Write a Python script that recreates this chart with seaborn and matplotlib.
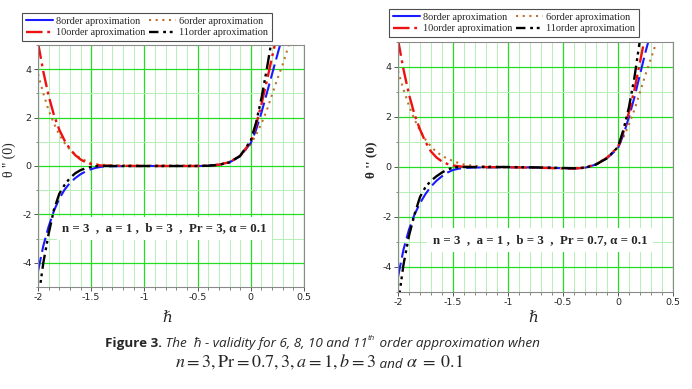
import numpy as np
import pandas as pd
import matplotlib
matplotlib.use("Agg")
import matplotlib.pyplot as plt
from matplotlib.lines import Line2D
from matplotlib.ticker import MultipleLocator, FixedLocator
import seaborn as sns

# ---------------- data ----------------
hbar = [-2.0, -1.95, -1.9, -1.85, -1.8, -1.75, -1.7, -1.65, -1.6, -1.55, -1.5, -1.45,
        -1.4, -1.3, -1.0, -0.7, -0.5, -0.4, -0.3, -0.2, -0.1, 0.0, 0.05, 0.1, 0.15,
        0.2, 0.25, 0.3, 0.35, 0.4]

# Left panel: Pr = 3
left_8 = [-4.35, -3.3, -2.5, -1.85, -1.35, -0.98, -0.7, -0.5, -0.34, -0.22, -0.13, -0.07,
          -0.03, -0.01, 0.0, 0.0, 0.0, 0.01, 0.05, 0.15, 0.4, 0.95, 1.5, 2.2, 3.0,
          3.8, 4.6, 5.4, 6.2, 7.0]
left_6 = [3.8, 3.0, 2.3, 1.75, 1.3, 0.95, 0.68, 0.47, 0.32, 0.21, 0.13, 0.08,
          0.05, 0.03, 0.02, 0.02, 0.02, 0.03, 0.07, 0.18, 0.42, 0.9, 1.3, 1.75, 2.3,
          2.95, 3.6, 4.2, 4.9, 5.6]
left_10 = [5.1, 3.9, 2.9, 2.1, 1.5, 1.05, 0.7, 0.45, 0.27, 0.15, 0.08, 0.04,
           0.02, 0.01, 0.0, 0.0, 0.0, 0.01, 0.05, 0.16, 0.42, 1.0, 1.7, 2.55, 3.5,
           4.5, 5.5, 6.5, 7.5, 8.5]
left_11 = [-5.6, -4.0, -2.8, -1.8, -1.15, -0.78, -0.5, -0.3, -0.17, -0.09, -0.04, -0.01,
           0.0, 0.0, 0.0, 0.0, 0.0, 0.01, 0.05, 0.15, 0.42, 1.05, 1.8, 2.8, 4.0,
           5.3, 6.6, 7.9, 9.2, 10.5]

# Right panel: Pr = 0.7
right_8 = [-4.4, -3.3, -2.5, -1.9, -1.45, -1.08, -0.78, -0.55, -0.37, -0.22, -0.12, -0.07,
           -0.04, -0.02, -0.01, -0.02, -0.05, -0.06, -0.03, 0.1, 0.35, 0.75, 1.3, 2.0, 2.8,
           3.7, 4.6, 5.4, 6.2, 7.0]
right_6 = [3.85, 3.1, 2.45, 1.9, 1.45, 1.1, 0.82, 0.6, 0.45, 0.33, 0.24, 0.16,
           0.1, 0.04, 0.0, -0.02, -0.04, -0.04, -0.01, 0.12, 0.38, 0.8, 1.2, 1.7, 2.3,
           3.0, 3.7, 4.35, 5.0, 5.7]
right_10 = [5.1, 3.9, 2.9, 2.1, 1.5, 1.0, 0.62, 0.38, 0.22, 0.12, 0.06, 0.03,
            0.01, 0.0, -0.01, -0.03, -0.06, -0.06, -0.03, 0.1, 0.37, 0.8, 1.4, 2.2, 3.1,
            4.2, 5.3, 6.4, 7.5, 8.6]
right_11 = [-5.5, -3.9, -2.75, -1.9, -1.2, -0.8, -0.55, -0.37, -0.22, -0.1, -0.03, 0.0,
            0.0, 0.0, 0.0, -0.02, -0.04, -0.05, -0.03, 0.1, 0.35, 0.8, 1.5, 2.4, 3.6,
            5.1, 6.6, 8.1, 9.6, 11.1]

series_labels = ["8order aproximation", "6order aproximation",
                 "10order aproximation", "11order aproximation"]
x_ticks = [-2, -1.5, -1, -0.5, 0, 0.5]
x_ticklabels = ["-2", "-1.5", "-1", "-0.5", "0", "0.5"]
y_ticks = [-4, -2, 0, 2, 4]
y_ticklabels = ["-4", "-2", "0", "2", "4"]
notes = ["n = 3  ,  a = 1 ,  b = 3  ,  Pr = 3, α = 0.1",
         "n = 3  ,  a = 1 ,  b = 3  ,  Pr = 0.7, α = 0.1"]

# ---------------- styles ----------------
colors = {"8": "#1a1aff", "6": "#c0702a", "10": "#ee1111", "11": "#000000"}
styles = {"8": (0, (7, 2.5)), "6": (0, (1, 2.2)), "10": (0, (7, 2, 1.2, 2)),
          "11": (0, (6, 2, 1.2, 1.6, 1.2, 2))}
legend_styles = {"8": "-", "6": (0, (1, 2.2)), "10": (0, (7, 2, 1.2, 2)),
                 "11": (0, (4, 2, 1.2, 1.6, 1.2, 2))}
widths = {"8": 1.5, "6": 1.5, "10": 1.7, "11": 1.7}

sns.set_style("white")
plt.rcParams["font.family"] = ["DejaVu Sans"]
plt.rcParams["mathtext.fontset"] = "stix"

fig = plt.figure(figsize=(6.92, 3.89), dpi=100)
W, H = 692.0, 389.0

def axes_px(l, r, t, b):
    return fig.add_axes([l / W, 1 - b / H, (r - l) / W, (b - t) / H])

axL = axes_px(38, 304, 45, 287)
axR = axes_px(398, 673, 42, 292)

panels = [
    (axL, {"8": left_8, "6": left_6, "10": left_10, "11": left_11}),
    (axR, {"8": right_8, "6": right_6, "10": right_10, "11": right_11}),
]

for ax, data in panels:
    ax.set_xlim(-2, 0.5)
    ax.set_ylim(-5, 5)
    ax.xaxis.set_major_locator(FixedLocator(x_ticks))
    ax.set_xticklabels(x_ticklabels)
    ax.yaxis.set_major_locator(FixedLocator(y_ticks))
    ax.set_yticklabels(y_ticklabels)
    ax.xaxis.set_minor_locator(MultipleLocator(0.1))
    ax.yaxis.set_minor_locator(MultipleLocator(1))
    ax.grid(which="minor", color="#b4f0b4", linewidth=0.7)
    ax.grid(which="major", color="#22dd22", linewidth=0.9)
    ax.set_axisbelow(True)
    for s in ax.spines.values():
        s.set_color("#8a8a8a")
        s.set_linewidth(0.8)
    ax.tick_params(which="major", direction="out", length=3, width=0.7,
                   color="#555555", labelsize=6.8, pad=1.5, bottom=True, left=True)
    ax.tick_params(which="minor", direction="out", length=1.8, width=0.5,
                   color="#555555", bottom=True, left=True)
    for key in ["6", "8", "10", "11"]:
        df = pd.DataFrame({"h": hbar, "v": data[key]})
        sns.lineplot(data=df, x="h", y="v", ax=ax, color=colors[key],
                     linestyle=styles[key], linewidth=widths[key], legend=False)
    ax.set_xlabel("")
    ax.set_ylabel("")

# annotation boxes
axL.text(-0.81, -2.58, notes[0], fontsize=9.3, fontweight="bold",
         family=["Liberation Serif"], ha="center", va="center", zorder=5,
         bbox=dict(facecolor="white", edgecolor="none", pad=4))
axR.text(-0.71, -2.92, notes[1], fontsize=9.3, fontweight="bold",
         family=["Liberation Serif"], ha="center", va="center", zorder=5,
         bbox=dict(facecolor="white", edgecolor="none", pad=4))

# axis labels
fig.text(9 / W, 1 - 160 / H, "θ '' (0)", rotation=90, ha="center", va="center",
         fontsize=10, family=["Liberation Serif"])
fig.text(371 / W, 1 - 160 / H, "θ '' (0)", rotation=90, ha="center", va="center",
         fontsize=9.5, fontweight="bold", family=["Liberation Serif"])
fig.text(167 / W, 1 - 318 / H, "ℏ", ha="center", va="center", fontsize=11,
         family=["DejaVu Serif"], style="italic")
fig.text(533 / W, 1 - 318 / H, "ℏ", ha="center", va="center", fontsize=11,
         family=["DejaVu Serif"], style="italic")

# legends
def make_handles():
    order = ["8", "10", "6", "11"]
    labs = {"8": series_labels[0], "6": series_labels[1],
            "10": series_labels[2], "11": series_labels[3]}
    hs = [Line2D([], [], color=colors[k], linestyle=legend_styles[k],
                 linewidth=widths[k]) for k in order]
    return hs, [labs[k] for k in order]

for (cx, cy) in [(147, 27), (514, 23)]:
    hs, ls = make_handles()
    leg = fig.legend(hs, ls, ncol=2, loc="center",
                     bbox_to_anchor=(cx / W, 1 - cy / H),
                     prop={"family": "Liberation Serif", "size": 7.4},
                     frameon=True, fancybox=False, edgecolor="#222222",
                     borderpad=0.35, labelspacing=0.25, handlelength=2.6,
                     handletextpad=0.3, columnspacing=0.4, borderaxespad=0)
    leg.get_frame().set_linewidth(0.8)

# caption line 1
t1 = fig.text(105 / W, 1 - 343 / H, "Figure 3.", fontsize=9.7, fontweight="bold",
              family=["Open Sans"], ha="left", va="center")
ann2 = fig.axes[0].annotate(" The  ħ - validity for 6, 8, 10 and 11", xy=(1, 0),
                            xycoords=t1, va="bottom", ha="left", fontsize=9.7,
                            style="italic", family=["Open Sans"],
                            annotation_clip=False)
ann3 = fig.axes[0].annotate("th", xy=(1, 0.55), xycoords=ann2, va="bottom", ha="left",
                            fontsize=5.8, style="italic", family=["Open Sans"],
                            annotation_clip=False)
ann4 = fig.axes[0].annotate(" order approximation when", xy=(1, 0), xycoords=ann2,
                            xytext=(6, 0), textcoords="offset points",
                            va="bottom", ha="left", fontsize=9.7, style="italic",
                            family=["Open Sans"], annotation_clip=False)

# caption line 2
c1 = fig.text(175 / W, 1 - 367 / H, r"$n=3,\mathrm{Pr}=0.7,3,a=1,b=3$",
              fontsize=13, ha="left", va="baseline")
c2 = fig.axes[0].annotate(" and ", xy=(1, 0), xycoords=c1, va="bottom", ha="left",
                          fontsize=9.7, style="italic", family=["Open Sans"],
                          annotation_clip=False)
c3 = fig.axes[0].annotate(r"$\alpha\;=\;0.1$", xy=(1, 0), xycoords=c2, va="bottom",
                          ha="left", fontsize=13, annotation_clip=False)

fig.savefig("out.png", dpi=100)
